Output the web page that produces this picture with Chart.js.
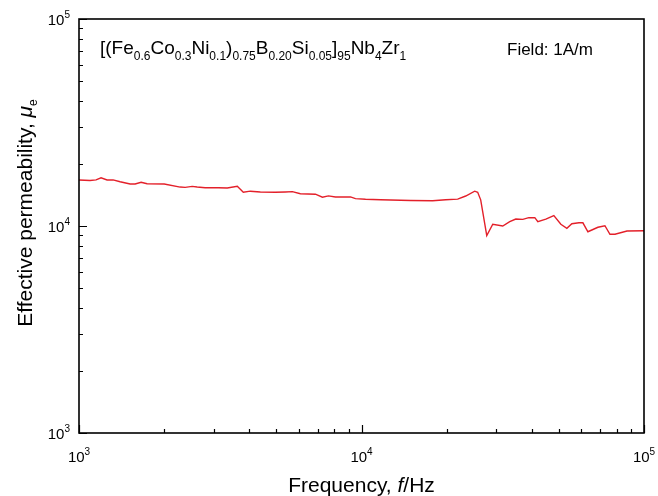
<!DOCTYPE html>
<html>
<head>
<meta charset="utf-8">
<script src="https://cdn.jsdelivr.net/npm/chart.js@4/dist/chart.umd.min.js"></script>
<style>
  html, body { margin: 0; padding: 0; background: #fff; }
  #wrap { width: 658px; height: 496px; position: relative; }
</style>
</head>
<body>
<div id="wrap"><canvas id="chart"></canvas></div>
<script>
// frequency (Hz) and effective permeability
const freqHz = [1000, 1094, 1149, 1197, 1257, 1320, 1398, 1517, 1580, 1659, 1742, 2002, 2281, 2376, 2516, 2620, 2797, 3111, 3348, 3634,
  3816, 4042, 4384, 4955, 5377, 5692, 6077, 6869, 7272, 7638, 8089, 9141, 9522, 10332, 11680, 14920, 17860, 19860, 21900, 23380,
  25160, 25780, 26420, 27760, 29150, 31620, 33480, 35170, 37240, 39100, 41070, 42090, 44930, 47960, 50780, 53330, 55540, 58830,
  60770, 63310, 68690, 72720, 75770, 78940, 87040, 100000];
const permeability = [16680, 16600, 16700, 17100, 16680, 16700, 16360, 15950, 15950, 16260, 16000, 15950, 15420, 15360, 15530, 15420, 15300, 15300, 15270, 15560,
  14550, 14730, 14600, 14560, 14600, 14650, 14320, 14240, 13770, 13980, 13800, 13820, 13560, 13460, 13380, 13280, 13250, 13400, 13480, 13960,
  14730, 14560, 13380, 8980, 10200, 10000, 10490, 10810, 10770, 10970, 10970, 10490, 10790, 11220, 10200, 9750, 10250, 10360,
  10360, 9380, 9860, 10030, 9120, 9120, 9460, 9480];

const decades = [1000, 10000, 100000];
const decadeExp = ['3', '4', '5'];
const minorSteps = [2, 3, 4, 5, 6, 7, 8, 9];

const FONT = '"Liberation Sans", Arial, sans-serif';

// draw a run of text pieces (size, dy, italic) starting at x, baseline y
function richWidth(ctx, parts) {
  let w = 0;
  parts.forEach(p => {
    ctx.font = (p.it ? 'italic ' : '') + p.s + 'px ' + FONT;
    w += ctx.measureText(p.t).width;
  });
  return w;
}
function drawRich(ctx, parts, x, y, align) {
  const w = richWidth(ctx, parts);
  let cx = x;
  if (align === 'center') cx = x - w / 2;
  if (align === 'right') cx = x - w;
  ctx.textBaseline = 'alphabetic';
  ctx.textAlign = 'left';
  parts.forEach(p => {
    ctx.font = (p.it ? 'italic ' : '') + p.s + 'px ' + FONT;
    ctx.fillText(p.t, cx, y + (p.dy || 0));
    cx += ctx.measureText(p.t).width;
  });
}

const framePlugin = {
  id: 'frame',
  afterDraw(chart) {
    const { ctx, chartArea: a, scales } = chart;
    const xs = scales.x, ys = scales.y;
    ctx.save();
    ctx.strokeStyle = '#000';
    ctx.fillStyle = '#000';

    // ticks, pointing inward, left and bottom only
    ctx.lineWidth = 1.2;
    ctx.beginPath();
    decades.forEach((d, i) => {
      const px = Math.round(xs.getPixelForValue(d)) + 0.5;
      const py = Math.round(ys.getPixelForValue(d)) + 0.5;
      ctx.moveTo(px, a.bottom); ctx.lineTo(px, a.bottom - 8);
      ctx.moveTo(a.left, py); ctx.lineTo(a.left + 8, py);
      if (i < decades.length - 1) {
        minorSteps.forEach(m => {
          const mx = Math.round(xs.getPixelForValue(d * m)) + 0.5;
          const my = Math.round(ys.getPixelForValue(d * m)) + 0.5;
          ctx.moveTo(mx, a.bottom); ctx.lineTo(mx, a.bottom - 4);
          ctx.moveTo(a.left, my); ctx.lineTo(a.left + 4, my);
        });
      }
    });
    ctx.stroke();

    // frame
    ctx.lineWidth = 1.6;
    ctx.strokeRect(a.left, a.top, a.right - a.left, a.bottom - a.top);

    // tick labels 10^n
    decades.forEach((d, i) => {
      const lab = [{ t: '10', s: 15 }, { t: decadeExp[i], s: 10, dy: -7 }];
      drawRich(ctx, lab, a.left - 9, ys.getPixelForValue(d) + 6, 'right');
      drawRich(ctx, lab, xs.getPixelForValue(d), a.bottom + 29, 'center');
    });

    // axis titles
    drawRich(ctx, [{ t: 'Frequency, ', s: 21 }, { t: 'f', s: 21, it: true }, { t: '/Hz', s: 21 }],
      (a.left + a.right) / 2, a.bottom + 59, 'center');
    ctx.save();
    ctx.translate(32, 213);
    ctx.rotate(-Math.PI / 2);
    drawRich(ctx, [{ t: 'Effective permeability, ', s: 21 }, { t: 'μ', s: 21, it: true }, { t: 'e', s: 12, dy: 5 }],
      0, 0, 'center');
    ctx.restore();

    // annotations
    const sub = (t) => ({ t: t, s: 12, dy: 6 });
    const big = (t) => ({ t: t, s: 19 });
    drawRich(ctx, [big('[(Fe'), sub('0.6'), big('Co'), sub('0.3'), big('Ni'), sub('0.1'), big(')'), sub('0.75'),
      big('B'), sub('0.20'), big('Si'), sub('0.05'), big(']'), sub('95'), big('Nb'), sub('4'), big('Zr'), sub('1')],
      100, 54, 'left');
    drawRich(ctx, [{ t: 'Field: 1A/m', s: 17 }], 507, 55, 'left');
    ctx.restore();
  }
};

new Chart(document.getElementById('chart'), {
  type: 'line',
  data: {
    datasets: [{
      label: 'Effective permeability',
      data: freqHz.map((f, i) => ({ x: f, y: permeability[i] })),
      borderColor: '#e3202a',
      borderWidth: 1.4,
      pointRadius: 0,
      tension: 0,
      fill: false
    }]
  },
  options: {
    responsive: true,
    maintainAspectRatio: false,
    animation: false,
    layout: { padding: { left: 79, right: 14, top: 19, bottom: 63 } },
    scales: {
      x: { type: 'logarithmic', min: 1000, max: 100000, display: false },
      y: { type: 'logarithmic', min: 1000, max: 100000, display: false }
    },
    plugins: { legend: { display: false }, tooltip: { enabled: false } }
  },
  plugins: [framePlugin]
});
</script>
</body>
</html>
